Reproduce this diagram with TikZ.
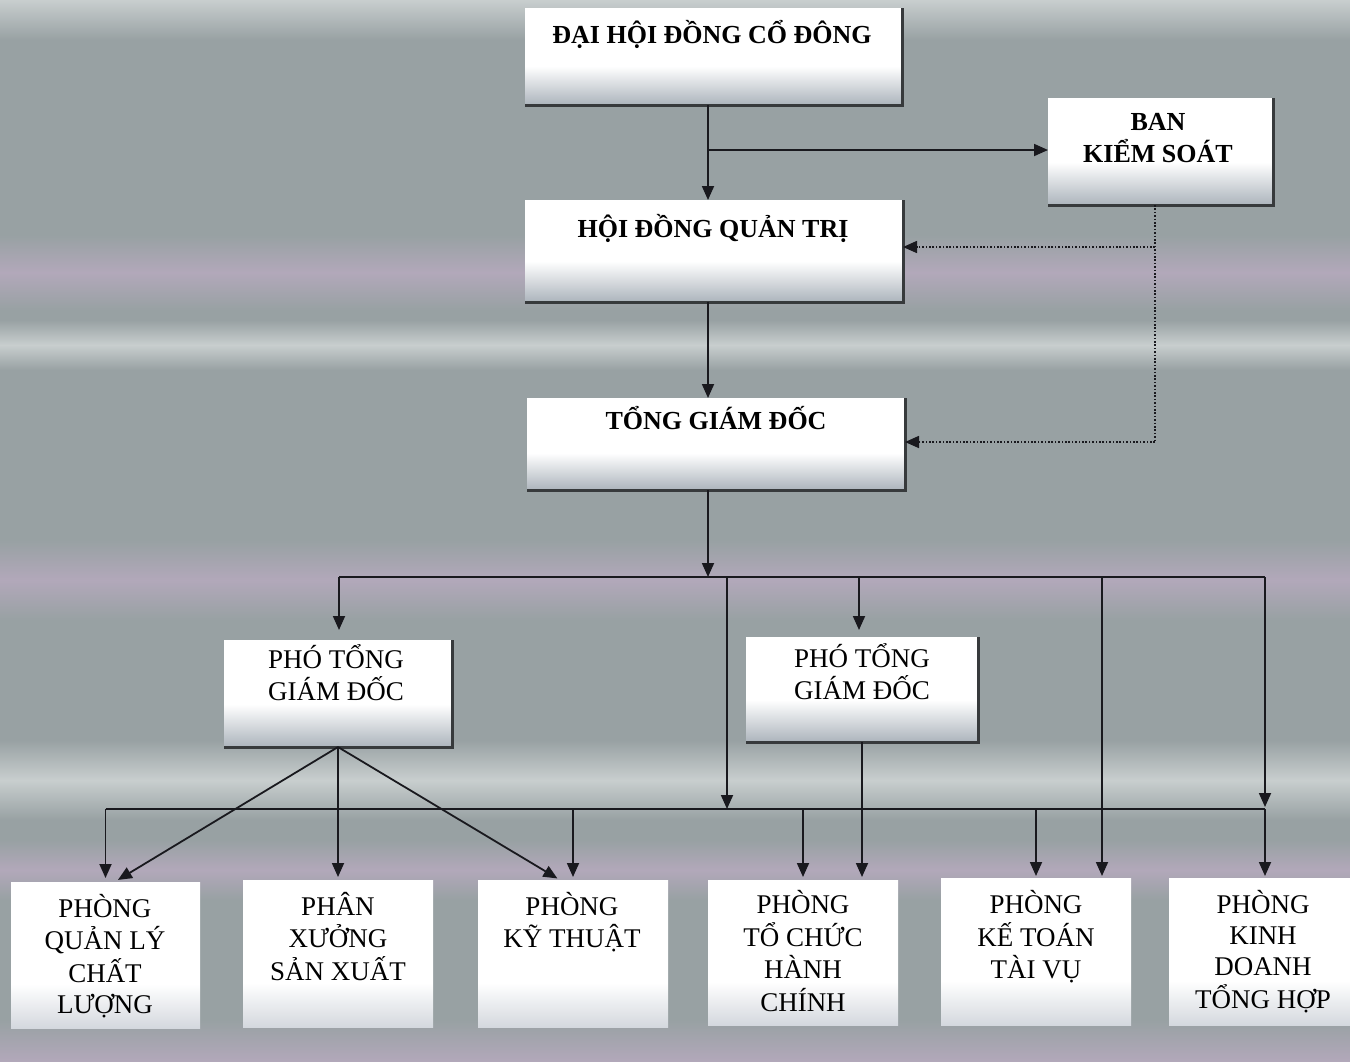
\documentclass[tikz,border=0pt]{standalone}
\usepackage{fontspec}
\setmainfont{Liberation Serif}
\usetikzlibrary{arrows.meta}
\definecolor{bgc}{RGB}{152,161,163}
\definecolor{bandp}{RGB}{178,168,186}
\definecolor{bandl}{RGB}{200,206,206}
\definecolor{linec}{RGB}{25,25,30}
\definecolor{shadowc}{RGB}{55,58,60}
\definecolor{boxlow}{RGB}{172,180,188}
\definecolor{boxlowb}{RGB}{212,216,222}
\pgfdeclareverticalshading{panelshade}{100bp}{color(0bp)=(boxlow); color(25bp)=(boxlow); color(45bp)=(white); color(100bp)=(white)}
\pgfdeclareverticalshading{roomshade}{100bp}{color(0bp)=(boxlowb); color(25bp)=(boxlowb); color(40bp)=(white); color(100bp)=(white)}
\newcommand{\mlines}[1]{\begin{tabular}[t]{@{}c@{}}#1\end{tabular}}
\begin{document}
\begin{tikzpicture}[x=1pt,y=-1pt,
  panel/.style={shading=panelshade, inner sep=0pt, outer sep=0pt},
  room/.style={shading=roomshade, inner sep=0pt, outer sep=0pt},
  shadowline/.style={line width=3pt, draw=shadowc},
  conn/.style={line width=1.8pt, draw=linec},
  arr/.style={conn, -{Triangle[length=14pt,width=12pt]}},
  dotline/.style={line width=1.6pt, draw=linec, dash pattern=on 1.6pt off 1.8pt},
  dotarr/.style={dotline, -{Triangle[length=14pt,width=12pt]}},
  band/.style={top color=bgc, bottom color=bgc, middle color=#1},
  bigtext/.style={anchor=base, inner sep=0pt, text=black, font=\bfseries\fontsize{26}{32}\selectfont},
  midtext/.style={anchor=base, inner sep=0pt, text=black, font=\fontsize{27}{30}\selectfont},
  roomtext/.style={anchor=base, inner sep=0pt, text=black, font=\fontsize{27}{31}\selectfont}]
\useasboundingbox (0,0) rectangle (1350,1061);
% background
\fill[bgc] (0,0) rectangle (1350,1061);
\shade[top color=bandl, bottom color=bgc] (0,0) rectangle (1350,40);
\shade[band=bandp] (0,235) rectangle (1350,310);
\shade[band=bandl] (0,320) rectangle (1350,370);
\shade[band=bandp] (0,540) rectangle (1350,620);
\shade[band=bandl] (0,740) rectangle (1350,820);
\shade[band=bandp] (0,840) rectangle (1350,900);
\shade[top color=bgc, bottom color=bandp] (0,1020) rectangle (1350,1061);
% boxes
\node[panel, minimum width=377pt, minimum height=97pt] (dh) at (713.5,56.5) {};
\node[panel, minimum width=378pt, minimum height=102pt] (hq) at (714,251) {};
\node[panel, minimum width=225pt, minimum height=107pt] (bks) at (1160.5,151.5) {};
\node[panel, minimum width=378pt, minimum height=92pt] (tgd) at (716,444) {};
\node[panel, minimum width=228pt, minimum height=107pt] (p1) at (338,693.5) {};
\node[panel, minimum width=232pt, minimum height=105pt] (p2) at (862,689.5) {};
\node[room, minimum width=189pt, minimum height=146pt] (qlcl) at (105.5,955) {};
\node[room, minimum width=190pt, minimum height=147pt] (sx) at (338,953.5) {};
\node[room, minimum width=190pt, minimum height=147pt] (kt) at (573,953.5) {};
\node[room, minimum width=190pt, minimum height=145pt] (tc) at (803,952.5) {};
\node[room, minimum width=190pt, minimum height=147pt] (ktv) at (1036,951.5) {};
\node[room, minimum width=181pt, minimum height=147pt] (kd) at (1259.5,951.5) {};
% shadows
\foreach \n in {dh,hq,bks,tgd,p1,p2}
  \draw[shadowline] (\n.north east) -- (\n.south east) -- (\n.south west);
% connectors
\coordinate (j1) at (708,150);
\draw[arr] (dh.south -| j1) -- (hq.north -| j1);
\draw[arr] (j1) -- (j1 -| bks.west);
\draw[arr] (hq.south -| j1) -- (tgd.north -| j1);
\coordinate (b1) at (708,577);
\draw[arr] (tgd.south -| b1) -- (b1);
\coordinate (bl) at (339,577);
\coordinate (br) at (1265,577);
\draw[conn] (bl) -- (br);
\draw[arr, shorten >=10pt] (bl) -- (bl |- p1.north);
\coordinate (l1) at (105.5,809);
\coordinate (l2) at (1265,809);
\draw[conn] (l1) -- (l2);
\coordinate (m1) at (727,577);
\draw[arr] (m1) -- (m1 |- l1);
\coordinate (m2) at (859,577);
\draw[arr, shorten >=7pt] (m2) -- (m2 |- p2.north);
\coordinate (m3) at (1102,577);
\draw[arr, shorten >=2pt] (m3) -- (m3 |- ktv.north);
\draw[arr, shorten >=2pt] (br) -- (l2);
\draw[arr, shorten >=4pt] (l1) -- (qlcl.north);
\draw[arr, shorten >=3pt] (kt.north |- l1) -- (kt.north);
\draw[arr, shorten >=3pt] (tc.north |- l1) -- (tc.north);
\draw[arr, shorten >=2pt] (ktv.north |- l1) -- (ktv.north);
\draw[arr, shorten >=2pt] (l2) -- (l2 |- kd.north);
\draw[arr, shorten >=4pt] (p1.south) -- ([xshift=9pt]qlcl.north);
\draw[arr, shorten >=3pt] (p1.south) -- (sx.north);
\draw[arr, shorten >=3pt] (p1.south) -- ([xshift=-13pt]kt.north);
\draw[arr, shorten >=3pt] (p2.south) -- (p2.south |- tc.north);
% dotted control lines
\coordinate (dv) at (1155,247);
\coordinate (dw) at (1155,442);
\draw[dotline] (bks.south -| dv) -- (dw);
\draw[dotarr] (dv) -- (dv -| hq.east);
\draw[dotarr] (dw) -- (dw -| tgd.east);
% texts
\node[bigtext] (dht) at (712,43) {ĐẠI HỘI ĐỒNG CỔ ĐÔNG};
\node[bigtext] (hqt) at (713,237) {HỘI ĐỒNG QUẢN TRỊ};
\node[bigtext] (bkst) at (1158,130) {\mlines{BAN\\KIỂM SOÁT}};
\node[bigtext] (tgdt) at (716,429) {TỔNG GIÁM ĐỐC};
\node[midtext] (p1t) at (336,668) {\mlines{PHÓ TỔNG\\GIÁM ĐỐC}};
\node[midtext] (p2t) at (862,667) {\mlines{PHÓ TỔNG\\GIÁM ĐỐC}};
\node[roomtext] (qlclt) at (105,917) {\mlines{PHÒNG\\QUẢN LÝ\\CHẤT\\LƯỢNG}};
\node[roomtext] (sxt) at (338,915) {\mlines{PHÂN\\XƯỞNG\\SẢN XUẤT}};
\node[roomtext] (ktt) at (572,915) {\mlines{PHÒNG\\KỸ THUẬT}};
\node[roomtext] (tct) at (803,913) {\mlines{PHÒNG\\TỔ CHỨC\\HÀNH\\CHÍNH}};
\node[roomtext] (ktvt) at (1036,913) {\mlines{PHÒNG\\KẾ TOÁN\\TÀI VỤ}};
\node[roomtext] (kdt) at (1263,913) {\mlines{PHÒNG\\KINH\\DOANH\\TỔNG HỢP}};
\end{tikzpicture}
\end{document}
